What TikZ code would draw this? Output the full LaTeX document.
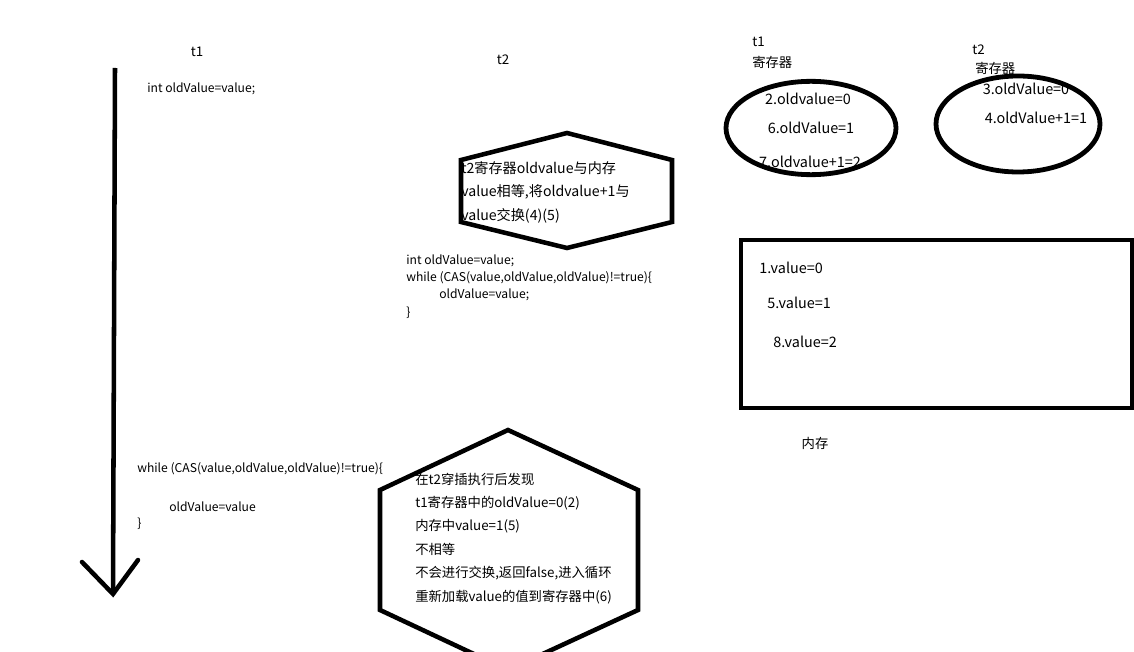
\documentclass[tikz,border=0pt]{standalone}
\usepackage{fontspec}
\setmainfont{Noto Sans CJK SC}
\usetikzlibrary{shapes.geometric,positioning}

\begin{document}
\begin{tikzpicture}[x=0.75pt,y=-0.75pt,
    code/.style={anchor=west,inner sep=0pt,font=\fontsize{9.1}{10}\selectfont},
    note/.style={anchor=west,inner sep=0pt,font=\fontsize{10}{12}\selectfont},
    label/.style={inner sep=0pt,font=\fontsize{10}{12}\selectfont},
    value/.style={inner sep=0pt,font=\fontsize{10.8}{12}\selectfont},
    heavy/.style={line width=3.4pt,line join=miter},
    regbox/.style={ellipse,draw,line width=3.6pt}]
  \useasboundingbox (0,0) rectangle (1134,652);

  % thread t1 timeline
  \node[label] (t1) at (197,52) {t1};
  \coordinate (t1top) at (115,68);
  \coordinate (t1end) at (113,594);
  \draw[heavy] (t1top) -- (t1end);
  \draw[heavy,line cap=round] (82,562) -- (t1end) -- (138,560);
  \node[code] (t1load) at (147,89) {int oldValue=value;};
  \node[code] (t1loop) at (137,469) {while (CAS(value,oldValue,oldValue)!=true)\{};
  \node[code] (t1body) at (169,507) {oldValue=value};
  \node[code] (t1close) at (137,524) {\}};

  % thread t2
  \node[label] (t2) at (503,60) {t2};
  \draw[heavy] (567,133) -- (672,160) -- (672,222) -- (567,248)
    -- (461,222) -- (461,160) -- cycle;
  \foreach \y/\txt in {168/t2寄存器oldvalue与内存,
                       192/value相等{,}将oldvalue+1与,
                       216/value交换(4)(5)}
    \node[note,font=\fontsize{10.6}{12}\selectfont] at (461,\y) {\txt};
  \node[code] (t2load) at (406,261) {int oldValue=value;};
  \node[code] (t2loop) at (406,278) {while (CAS(value,oldValue,oldValue)!=true)\{};
  \node[code] (t2body) at (439,295) {oldValue=value;};
  \node[code] (t2close) at (406,313) {\}};

  % retry explanation
  \draw[heavy] (508,430) -- (638,490) -- (638,610) -- (508,670)
    -- (380,610) -- (380,490) -- cycle;
  \foreach \y/\txt in {479/在t2穿插执行后发现,
                       503/t1寄存器中的oldValue=0(2),
                       526/内存中value=1(5),
                       549/不相等,
                       573/不会进行交换{,}返回false{,}进入循环,
                       597/重新加载value的值到寄存器中(6)}
    \node[note] at (415,\y) {\txt};

  % registers
  \node[label,anchor=west] (reg1t) at (752,42) {t1};
  \node[label,anchor=west] (reg1n) at (752,62) {寄存器};
  \node[regbox,minimum width=127.5pt,minimum height=70pt] (reg1) at (811,128) {};
  \node[value] at (808,99) {2.oldvalue=0};
  \node[value] at (811,128) {6.oldValue=1};
  \node[value] at (810,162) {7.oldvalue+1=2};

  \node[label,anchor=west] (reg2t) at (972,50) {t2};
  \node[label,anchor=west] (reg2n) at (975,68) {寄存器};
  \node[regbox,minimum width=123pt,minimum height=72pt] (reg2) at (1018,124) {};
  \node[value] at (1026,89) {3.oldValue=0};
  \node[value] at (1036,118) {4.oldValue+1=1};

  % main memory
  \draw[heavy] (741,240) rectangle (1132,408);
  \foreach \x/\y/\txt in {759/268/1.value=0, 767/303/5.value=1, 773/342/8.value=2}
    \node[value,anchor=west] at (\x,\y) {\txt};
  \node[label] (mem) at (815,443) {内存};
\end{tikzpicture}
\end{document}
